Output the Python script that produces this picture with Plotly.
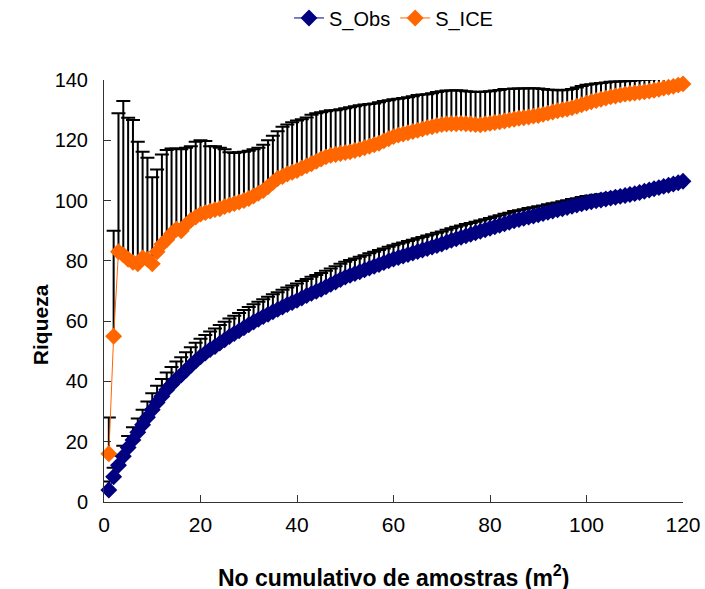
import plotly.graph_objects as go
import numpy as np

x_samples = list(range(1, 121))

s_obs = [4.0, 8.4, 12.2, 15.2, 18.1, 20.6, 23.1, 25.6, 28.1, 30.6,
         33.0, 35.1, 37.2, 39.0, 40.7, 42.1, 43.7, 45.3, 46.8, 48.2,
         49.4, 50.6, 51.6, 52.7, 53.8, 54.9, 55.9, 56.8, 57.8, 58.8,
         59.7, 60.6, 61.5, 62.3, 63.1, 63.9, 64.7, 65.5, 66.2, 66.9,
         67.7, 68.5, 69.2, 69.9, 70.6, 71.4, 72.2, 73.0, 73.8, 74.6,
         75.2, 75.8, 76.4, 77.0, 77.6, 78.2, 78.8, 79.4, 80.0, 80.6,
         81.1, 81.6, 82.1, 82.6, 83.1, 83.6, 84.1, 84.6, 85.1, 85.6,
         86.2, 86.8, 87.3, 87.8, 88.3, 88.8, 89.3, 89.8, 90.3, 90.8,
         91.3, 91.8, 92.3, 92.8, 93.3, 93.7, 94.1, 94.5, 94.9, 95.3,
         95.7, 96.1, 96.5, 96.9, 97.3, 97.7, 98.1, 98.5, 98.9, 99.3,
         99.6, 99.9, 100.2, 100.5, 100.8, 101.1, 101.4, 101.7, 102.0, 102.3,
         102.7, 103.1, 103.5, 103.9, 104.3, 104.7, 105.1, 105.5, 105.9, 106.4]

s_obs_sd = [2.8, 3.0, 3.2, 3.5, 3.8, 4.2, 4.6, 5.0, 5.2, 5.5,
            5.6, 5.7, 5.8, 5.8, 5.9, 5.9, 6.0, 6.0, 6.0, 6.0,
            6.0, 6.0, 6.0, 6.0, 6.0, 6.0, 5.9, 5.9, 5.9, 5.9,
            5.9, 5.8, 5.8, 5.8, 5.8, 5.7, 5.7, 5.7, 5.6, 5.6,
            5.6, 5.5, 5.5, 5.4, 5.4, 5.3, 5.3, 5.2, 5.2, 5.1,
            5.1, 5.0, 5.0, 4.9, 4.9, 4.8, 4.8, 4.7, 4.7, 4.6,
            4.6, 4.5, 4.5, 4.4, 4.4, 4.3, 4.3, 4.2, 4.2, 4.1,
            4.1, 4.0, 4.0, 3.9, 3.9, 3.8, 3.7, 3.6, 3.5, 3.4,
            3.4, 3.3, 3.3, 3.2, 3.2, 3.1, 3.0, 3.0, 2.9, 2.8,
            2.7, 2.7, 2.6, 2.5, 2.5, 2.4, 2.4, 2.3, 2.3, 2.2,
            2.1, 2.0, 1.9, 1.8, 1.7, 1.6, 1.5, 1.4, 1.3, 1.2,
            1.1, 1.0, 0.9, 0.8, 0.7, 0.6, 0.5, 0.4, 0.2, 0.0]

s_ice = [16.0, 55.0, 83.0, 82.0, 80.5, 79.5, 79.0, 81.0, 80.5, 79.0,
         83.0, 85.5, 87.0, 89.0, 90.5, 90.0, 92.0, 93.5, 94.5, 95.5,
         96.0, 96.5, 97.0, 97.3, 98.0, 98.5, 99.0, 99.5, 100.0, 100.7,
         101.5, 102.4, 103.3, 104.6, 106.0, 107.3, 108.0, 108.8, 109.4, 110.0,
         110.8, 111.5, 112.2, 113.0, 113.8, 114.5, 115.0, 115.3, 115.6, 115.9,
         116.2, 116.6, 117.0, 117.5, 118.0, 118.5, 119.0, 119.8, 120.5, 121.2,
         121.7, 122.1, 122.5, 122.9, 123.3, 123.7, 124.2, 124.5, 124.9, 125.2,
         125.4, 125.5, 125.5, 125.6, 125.5, 125.4, 125.2, 125.1, 125.4, 125.6,
         125.9, 126.1, 126.4, 126.7, 127.0, 127.3, 127.5, 127.7, 128.0, 128.2,
         128.6, 129.0, 129.4, 129.8, 130.1, 130.4, 130.8, 131.3, 131.8, 132.3,
         132.8, 133.2, 133.6, 134.0, 134.4, 134.7, 135.0, 135.3, 135.5, 135.7,
         135.9, 136.1, 136.3, 136.6, 136.9, 137.3, 137.6, 137.9, 138.3, 138.7]

s_ice_upper = [28.0, 90.0, 129.0, 133.0, 127.5, 126.7, 119.5, 116.2, 114.2, 107.7,
               110.3, 115.3, 116.8, 117.3, 117.3, 117.0, 117.5, 118.0, 119.5, 120.0,
               119.8, 118.0, 118.0, 117.5, 117.0, 116.0, 115.8, 116.0, 116.2, 116.5,
               117.0, 117.5, 118.5, 120.0, 121.5, 123.0, 124.5, 125.2, 126.0, 126.6,
               127.0, 127.6, 128.5, 129.0, 129.3, 129.6, 130.0, 130.0, 130.3, 130.6,
               131.0, 131.3, 131.6, 131.9, 132.0, 132.2, 132.6, 133.0, 133.3, 133.6,
               133.8, 134.0, 134.3, 134.6, 135.0, 135.2, 135.3, 135.6, 136.0, 136.3,
               136.5, 136.5, 136.6, 136.5, 136.3, 136.2, 136.0, 136.0, 136.2, 136.3,
               136.5, 136.7, 137.0, 137.0, 137.2, 137.2, 137.2, 137.3, 137.3, 137.2,
               137.0, 136.8, 136.8, 136.6, 136.6, 136.8, 137.0, 137.5, 138.0, 138.4,
               138.6, 138.8, 139.0, 139.2, 139.4, 139.5, 139.5, 139.6, 139.7, 139.8,
               140.0, 140.1, 140.2, 140.3, 140.4, 140.5, 140.5, 140.5, 140.6, 140.6]

x_ticks = [0, 20, 40, 60, 80, 100, 120]
y_ticks = [0, 20, 40, 60, 80, 100, 120, 140]

ice_err = (np.array(s_ice_upper) - np.array(s_ice)).tolist()

FONT = "Liberation Sans, Arial, sans-serif"

fig = go.Figure()
fig.add_trace(go.Scatter(
    x=x_samples, y=s_obs, name="S_Obs", mode="lines+markers",
    line=dict(color="#000080", width=1),
    marker=dict(symbol="diamond", size=13, color="#000080"),
    error_y=dict(type="data", array=s_obs_sd, symmetric=False,
                 arrayminus=[0] * len(s_obs_sd), color="black",
                 thickness=2, width=7),
    cliponaxis=False,
))
fig.add_trace(go.Scatter(
    x=x_samples, y=s_ice, name="S_ICE", mode="lines+markers",
    line=dict(color="#FF6600", width=1),
    marker=dict(symbol="diamond", size=13, color="#FF6600"),
    error_y=dict(type="data", array=ice_err, symmetric=False,
                 arrayminus=[0] * len(ice_err), color="black",
                 thickness=2, width=7),
    cliponaxis=False,
))

fig.update_layout(
    width=705, height=589,
    margin=dict(l=104, r=22, t=80, b=87, autoexpand=False),
    paper_bgcolor="white", plot_bgcolor="white",
    font=dict(family=FONT, color="black", size=20),
    showlegend=True,
    legend=dict(orientation="h", x=0.5, xanchor="center", y=1.147, yanchor="middle",
                font=dict(size=20, family=FONT),
                bgcolor="rgba(0,0,0,0)"),
    xaxis=dict(range=[0, 120], tickvals=x_ticks, ticks="inside", ticklen=7,
               tickcolor="#333", showline=True, linecolor="#333", linewidth=1,
               showgrid=False, zeroline=False, automargin=False,
               ticklabelstandoff=4,
               tickfont=dict(size=21, family=FONT)),
    yaxis=dict(range=[0, 140], tickvals=y_ticks, ticks="inside", ticklen=7,
               tickcolor="#333", showline=True, linecolor="#333", linewidth=1,
               showgrid=False, zeroline=False, automargin=False,
               ticklabelstandoff=11,
               tickfont=dict(size=20, family=FONT)),
    annotations=[
        dict(text="<b>No cumulativo de amostras (m<sup>2</sup>)</b>", xref="paper", yref="paper",
             x=0.5, y=-0.175, xanchor="center", yanchor="middle", showarrow=False,
             font=dict(size=23, family=FONT)),
        dict(text="<b>Riqueza</b>", xref="paper", yref="paper",
             x=-0.1105, y=0.419, xanchor="center", yanchor="middle", showarrow=False,
             textangle=-90, font=dict(size=21, family=FONT)),
    ],
)

fig.write_html(
    "out.html",
    config={"displayModeBar": False},
    post_script="document.body.style.margin='0';document.body.style.overflow='hidden';",
)
